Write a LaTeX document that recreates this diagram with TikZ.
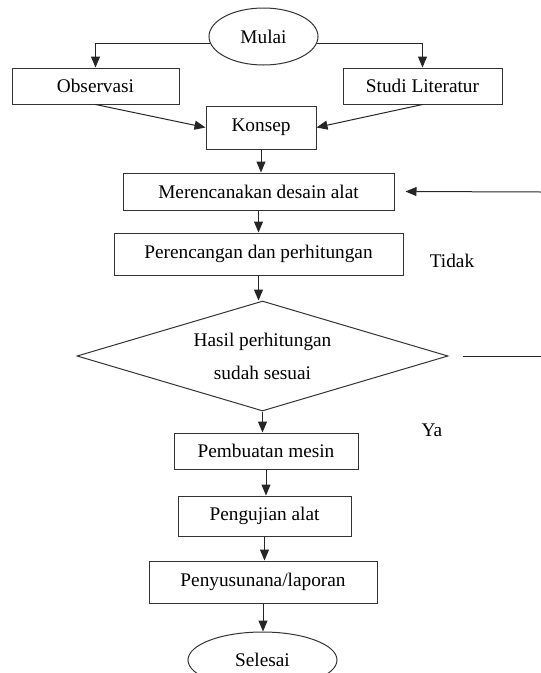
\documentclass[tikz,border=0pt]{standalone}
\usepackage{fontspec}
\setmainfont{Liberation Serif}
\usetikzlibrary{arrows.meta,shapes.geometric,positioning}

\begin{document}
\begin{tikzpicture}[x=1pt,y=-1pt,
  every node/.style={font=\fontsize{19.3}{33}\selectfont},
  proses/.style={draw=black!80, line width=1pt, rectangle, inner sep=0pt},
  terminal/.style={draw=black!80, line width=1pt, ellipse, inner sep=0pt},
  keputusan/.style={draw=black!80, line width=1pt, diamond, shape aspect=3.37, inner sep=0pt, align=center},
  panah/.style={-{Triangle[length=11pt,width=9pt]}, line width=1pt, black!85}]
\useasboundingbox (0,0) rectangle (541,673);
% Start and end
\node[terminal, minimum width=109pt, minimum height=57pt] (mulai) at (263.5,36.5) {Mulai};
\node[terminal, minimum width=149pt, minimum height=56pt] (selesai) at (262.5,660) {Selesai};
% Process boxes
\node[proses, minimum width=167pt, minimum height=36pt] (obs) at (95.5,86) {Observasi};
\node[proses, minimum width=159pt, minimum height=36pt] (studi) at (422.5,86) {Studi Literatur};
\node[proses, minimum width=110pt, minimum height=43pt] (konsep) at (261,127.5) {Konsep};
\node[proses, minimum width=271pt, minimum height=37pt] (rencana) at (258.5,191.5) {Merencanakan desain alat};
\node[proses, minimum width=289pt, minimum height=42pt] (hitung) at (258.5,254) {Perencangan dan perhitungan};
\node[keputusan, minimum width=371pt, minimum height=110pt] (cek) at (262.5,356) {Hasil perhitungan\\sudah sesuai};
\node[proses, minimum width=184pt, minimum height=36pt] (buat) at (266,451) {Pembuatan mesin};
\node[proses, minimum width=173pt, minimum height=40pt] (uji) at (264.5,516) {Pengujian alat};
\node[proses, minimum width=228pt, minimum height=42pt] (susun) at (263,582) {Penyusunana/laporan};
% Branch labels
\node (tidak) at (452,261) {Tidak};
\node (ya) at (432,430) {Ya};
% Split from start
\draw[panah] (mulai.188) -| (obs.north);
\draw[panah] (mulai.352) -| (studi.north);
\draw[panah] (obs.south) -- (konsep.west);
\draw[panah] (studi.south) -- (konsep.east);
% Main chain
\foreach \a/\b in {konsep/rencana,rencana/hitung,hitung/cek,cek/buat,buat/uji,uji/susun,susun/selesai} {
  \draw[panah] (\a.south) -- (\a.south |- \b.north);
}
% Loop back (runs off the page)
\coordinate (balikA) at (541,356);
\coordinate (balikB) at (541,192);
\draw[line width=1pt, black!85] ([xshift=14pt]cek.east) -- (balikA);
\draw[panah] (balikB) -- ([xshift=11pt]rencana.east);
\end{tikzpicture}
\end{document}
